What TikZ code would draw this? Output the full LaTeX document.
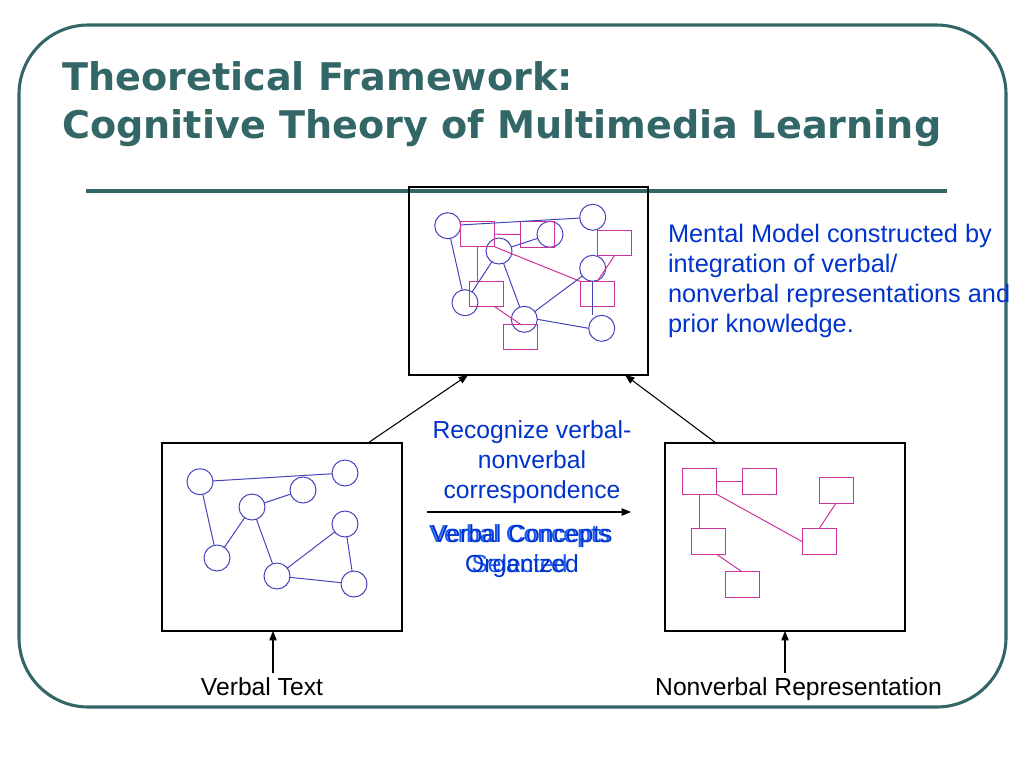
\documentclass[tikz,border=0pt]{standalone}
\usepackage{fontspec}
\setmainfont{Liberation Sans}
\newfontfamily\titlefont{DejaVu Sans}
\usetikzlibrary{arrows.meta,calc}
\definecolor{frameteal}{RGB}{51,102,102}
\definecolor{netblue}{RGB}{68,68,187}
\definecolor{netmag}{RGB}{204,51,153}
\definecolor{txtblue}{RGB}{0,51,204}
\definecolor{txtbluelt}{RGB}{26,90,240}
\begin{document}
\begin{tikzpicture}[x=0.75pt,y=-0.75pt,
  circ/.style={circle,draw=netblue,line width=0.75pt,minimum size=19.5pt,inner sep=0pt,outer sep=0pt},
  sq/.style={rectangle,draw=netmag,line width=0.75pt,minimum width=25.5pt,minimum height=19pt,inner sep=0pt,outer sep=0pt},
  be/.style={draw=netblue,line width=0.75pt},
  me/.style={draw=netmag,line width=0.75pt},
  panel/.style={draw=black,line width=0.8pt,inner sep=0pt,outer sep=0pt,minimum width=180pt,minimum height=141pt},
  arr/.style={draw=black,line width=0.8pt,-{Triangle[length=7pt,width=5.5pt]}},
  body/.style={font=\fontsize{18.5}{22.5}\selectfont,inner sep=0pt,outer sep=0pt},
  title/.style={text=frameteal,font=\titlefont\bfseries\fontsize{28.6}{36}\selectfont,inner sep=0pt,anchor=base west}]
\useasboundingbox (0,0) rectangle (1024,768);
% frame
\draw[frameteal,line width=2.3pt,rounded corners=52pt] (19,25) rectangle (1006,707);
% title
\node[title] (t1) at (62,90) {Theoretical Framework:};
\node[title] (t2) at (62,138) {Cognitive Theory of Multimedia Learning};
\draw[frameteal,line width=2.6pt] (86,191) -- (947,191);
% panels
\node[panel,minimum width=179.25pt] (tbox) at (528.5,281) {};
\node[panel] (lbox) at (282,537) {};
\node[panel] (rbox) at (785,537) {};
% top network
\node[circ] (T1) at (447.7,225.7) {};
\node[circ] (T2) at (592.7,217.3) {};
\node[circ] (T3) at (550,234.3) {};
\node[circ] (T4) at (499,251) {};
\node[circ] (T5) at (592.7,268.3) {};
\node[circ] (T6) at (465,302.7) {};
\node[circ] (T7) at (524.3,319.3) {};
\node[circ] (T8) at (601.7,328.3) {};
\node[sq] (U1) at (477.8,234.2) {};
\node[sq] (U2) at (537.5,234.5) {};
\node[sq] (U3) at (614.5,243) {};
\node[sq] (U4) at (486.2,294) {};
\node[sq] (U5) at (597.2,294) {};
\node[sq] (U6) at (520.5,337) {};
\draw[be] (T1) -- (T2);
\draw[be] (T1) -- (T6);
\draw[be] (T4) -- (T3);
\draw[be] (T4) -- (T6);
\draw[be] (T4) -- (T7);
\draw[be] (T7) -- (T5);
\draw[be] (T7.east) -- (T8.west);
\draw[be] (T5.south) -- (T5.south |- T8.north);
\draw[me] (U1.east) -- (U2.west);
\draw[me] (U1.south) -- (U1.south |- U4.north);
\draw[me] (U1.south east) -- (U5.north west);
\draw[me] ($(U4.south west)!0.75!(U4.south east)$) -- (U6.north);
\draw[me] (U3.south) -- (U5.north);
% left network
\node[circ] (L1) at (200,481.7) {};
\node[circ] (L2) at (345,473) {};
\node[circ] (L3) at (303,490) {};
\node[circ] (L4) at (252,507) {};
\node[circ] (L5) at (217,558) {};
\node[circ] (L6) at (277,576) {};
\node[circ] (L7) at (345,524) {};
\node[circ] (L8) at (354,584) {};
\draw[be] (L1) -- (L2);
\draw[be] (L1) -- (L5);
\draw[be] (L4) -- (L3);
\draw[be] (L4) -- (L5);
\draw[be] (L4) -- (L6);
\draw[be] (L6) -- (L7);
\draw[be] (L6) -- (L8);
\draw[be] (L7) -- (L8);
% right network
\node[sq] (R1) at (699.5,481.5) {};
\node[sq] (R2) at (759.5,481.5) {};
\node[sq] (R3) at (836,490.5) {};
\node[sq] (R4) at (708,541.5) {};
\node[sq] (R5) at (819,541.5) {};
\node[sq] (R6) at (742,584.5) {};
\draw[me] (R1.east) -- (R2.west);
\draw[me] (R1.south) -- (R1.south |- R4.north);
\draw[me] (R1.south east) -- (R5.west);
\draw[me] (R3.south) -- (R5.north);
\draw[me] ($(R4.south west)!0.75!(R4.south east)$) -- (R6.north);
% arrows between panels
\draw[arr] ($(lbox.north west)!0.858!(lbox.north east)$) -- ($(tbox.south west)!0.247!(tbox.south east)$);
\draw[arr] ($(rbox.north west)!0.2125!(rbox.north east)$) -- ($(tbox.south west)!0.904!(tbox.south east)$);
\coordinate (h1) at (427,512);
\coordinate (h2) at (631,512);
\draw[arr] (h1) -- (h2);
\coordinate (vt) at (273,673);
\coordinate (nv) at (785,673);
\draw[arr] (vt) -- (vt |- lbox.south);
\draw[arr] (nv) -- (rbox.south);
% texts
\node[body,anchor=base] (vtl) at (262,695) {Verbal Text};
\node[body,anchor=base] (nvl) at (798.5,695) {Nonverbal Representation};
\node[body,font=\fontsize{19}{22.5}\selectfont,anchor=base west,align=left,text=txtblue] (mm) at (668,332) {Mental Model constructed by\\integration of verbal/\\nonverbal representations and\\prior knowledge.};
\node[body,anchor=base,align=center,text=txtblue] (rec) at (532,498) {Recognize verbal-\\nonverbal\\correspondence};
\node[body,anchor=base,align=center,text=txtbluelt] (sel) at (519.5,572) {Verbal Concepts\\Selected};
\node[body,anchor=base,align=center,text=txtblue] (org) at (522,572) {Verbal Concepts\\Organized};
\end{tikzpicture}
\end{document}
